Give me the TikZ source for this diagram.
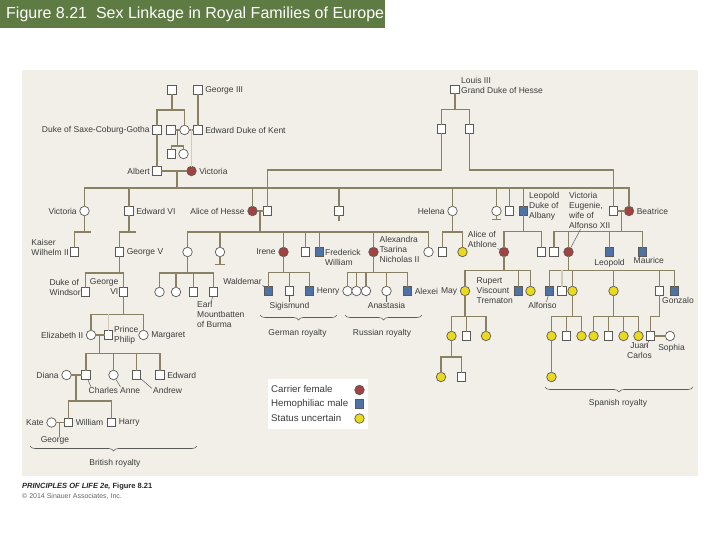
\documentclass[tikz,border=0pt]{standalone}
\usepackage{fontspec}
\setmainfont{Liberation Sans}
\usepackage{tikz}
\usetikzlibrary{positioning, calc, decorations.pathreplacing}
\definecolor{SlideGreen}{HTML}{5E7B44}
\definecolor{PanelBeige}{HTML}{F2EFE8}
\definecolor{LinkBrown}{HTML}{8A8062}
\definecolor{LinkLight}{HTML}{D2CBB6}
\definecolor{CarrierRed}{HTML}{A24341}
\definecolor{HemoBlue}{HTML}{4D72A3}
\definecolor{UncertYellow}{HTML}{E9DA1E}
\definecolor{SymEdge}{HTML}{595959}
\definecolor{LabelGray}{HTML}{3C3C3C}

\tikzset{
  male/.style={rectangle, draw=SymEdge, line width=0.7pt, fill=white, minimum size=8.5pt, inner sep=0pt},
  female/.style={circle, draw=SymEdge, line width=0.7pt, fill=white, minimum size=9.5pt, inner sep=0pt},
  carrier/.style={female, fill=CarrierRed},
  hemo/.style={male, fill=HemoBlue},
  uncertain/.style={female, fill=UncertYellow},
  kin/.style={draw=LinkBrown, line width=1.4pt, line cap=rect},
  faint/.style={draw=LinkLight, line width=1.4pt, line cap=rect},
  pointer/.style={draw=SymEdge, line width=0.5pt},
  pname/.style={font=\fontsize{8.5}{10}\selectfont, text=LabelGray, inner sep=0.5pt},
  keytext/.style={font=\fontsize{9.7}{11}\selectfont, text=LabelGray, inner sep=0pt},
  famgroup/.style={draw=SymEdge, line width=0.6pt, decorate, decoration={brace, mirror, amplitude=5pt}},
}

\begin{document}
\begin{tikzpicture}[x=1pt, y=-1pt]
\useasboundingbox (0,0) rectangle (720,540);
\fill[white] (0,0) rectangle (720,540);
\fill[SlideGreen] (0,0) rectangle (385,28);
\node (title) [anchor=west, inner sep=0pt, text=white, font=\fontsize{16}{18}\selectfont] at (6,14.5) {Figure 8.21\ \ Sex Linkage in Royal Families of Europe};
\fill[PanelBeige] (22,70) rectangle (698,476);

% Saxe-Coburg and Kent
\node (sc0) [male] at (172,90) {};
\node (george3) [male] at (198,90) {};
\node (saxe) [male] at (157,130) {};
\node (vsc1) [male] at (171,130) {};
\node (vsc) [female] at (184.5,130) {};
\node (kent) [male] at (198,130) {};
\node (vsc1a) [male] at (171.5,154) {};
\node (vsc1b) [female] at (183.5,154) {};
\node (albert) [male] at (157,171) {};
\node (queen) [carrier] at (191.5,171) {};
\node (lgeorge3) [pname, right=2pt of george3] {George III};
\node (lsaxe) [pname, left=2pt of saxe] {Duke of Saxe-Coburg-Gotha};
\node (lkent) [pname, right=2pt of kent] {Edward Duke of Kent};
\node (lalbert) [pname, left=2pt of albert] {Albert};
\node (lqueen) [pname, right=2pt of queen] {Victoria};

% Hesse
\node (hesse0) [male] at (455,89.5) {};
\node (lhesse0) [pname, anchor=west, align=left] at (460.5,85) {Louis III\\Grand Duke of Hesse};
\node (hesseA) [male] at (441.5,129) {};
\node (hesseB) [male] at (469.5,129) {};

% children of Victoria and Albert
\node (vicPR) [female] at (84.5,211) {};
\node (edward7) [male] at (129,211) {};
\node (alice) [carrier] at (252.5,211) {};
\node (louis4) [male] at (267.5,211) {};
\node (alfred) [male] at (339,211) {};
\node (helena) [female] at (452.5,211) {};
\node (louise) [female] at (496.5,211) {};
\node (arthur) [male] at (509.5,211) {};
\node (leopold) [hemo] at (523.5,211) {};
\node (henryB) [male] at (613.5,211) {};
\node (beatrice) [carrier] at (629,211) {};
\node (lvicPR) [pname, left=2pt of vicPR] {Victoria};
\node (ledward7) [pname, right=2pt of edward7] {Edward VI};
\node (lalice) [pname, left=2pt of alice] {Alice of Hesse};
\node (lhelena) [pname, left=2pt of helena] {Helena};
\node (lleopold) [pname, anchor=west, align=left] at (528.5,206) {Leopold\\Duke of\\Albany};
\node (lbeatrice) [pname, right=2pt of beatrice] {Beatrice};

% grandchildren
\node (kaiser) [male] at (74.5,252) {};
\node (georgeV) [male] at (119.5,252) {};
\node (vhesse) [female] at (187.5,252) {};
\node (ella) [female] at (220,252) {};
\node (irene) [carrier] at (283.5,252) {};
\node (ernst) [male] at (305.5,252) {};
\node (fredW) [hemo] at (319.5,252) {};
\node (alexandra) [carrier] at (373.5,252) {};
\node (maryH) [female] at (428.5,252) {};
\node (helK1) [male] at (442.5,252) {};
\node (helK2) [uncertain] at (462.5,252) {};
\node (athlone) [carrier] at (504,252) {};
\node (charlesE) [male] at (541.5,252) {};
\node (alexB) [male] at (554,252) {};
\node (vicEug) [carrier] at (568.5,252) {};
\node (leoB) [hemo] at (609.5,252) {};
\node (maurice) [hemo] at (642.5,252) {};
\node (lkaiser) [pname, anchor=east, align=left] at (69.5,247) {Kaiser\\Wilhelm II};
\node (lgeorgeV) [pname, right=2pt of georgeV] {George V};
\node (lirene) [pname, left=2pt of irene] {Irene};
\node (lfredW) [pname, anchor=west, align=left] at (324.5,257.5) {Frederick\\William};
\node (lalexandra) [pname, anchor=west, align=left] at (379,249.5) {Alexandra\\Tsarina\\Nicholas II};
\node (lathlone) [pname, anchor=south east, align=left] at (497.5,248.5) {Alice of\\Athlone};
\node (lvicEug) [pname, anchor=west, align=left] at (568.5,210.5) {Victoria\\Eugenie,\\wife of\\Alfonso XII};
\node (lleoB) [pname, below=2pt of leoB] {Leopold};
\node (lmaurice) [pname, anchor=north west] at (633,256.5) {Maurice};

% great-grandchildren
\node (windsor) [male] at (85.5,292) {};
\node (georgeVI) [male] at (123.5,292) {};
\node (vk1) [female] at (159.5,292) {};
\node (vk2) [female] at (176,292) {};
\node (vk3) [male] at (193.5,292) {};
\node (mountb) [male] at (213.5,292) {};
\node (waldemar) [hemo] at (268.5,291) {};
\node (sigis) [male] at (289.5,291) {};
\node (henryP) [hemo] at (309.5,291) {};
\node (olga) [female] at (347.5,291) {};
\node (tatiana) [female] at (356.5,291) {};
\node (maria) [female] at (366,291) {};
\node (anastasia) [female] at (386.5,291) {};
\node (alexei) [hemo] at (407.5,291) {};
\node (may) [uncertain] at (465,291) {};
\node (rupert) [hemo] at (518.5,291) {};
\node (athK3) [uncertain] at (530.5,291) {};
\node (alfonso) [hemo] at (549.5,291) {};
\node (jaime) [male] at (562,291) {};
\node (beatriz) [uncertain] at (572.5,291) {};
\node (mcrist) [uncertain] at (613.5,291) {};
\node (juan) [male] at (659.5,291) {};
\node (gonzalo) [hemo] at (674.5,291) {};
\node (lwindsor) [pname, anchor=east, align=left] at (81.5,287.5) {Duke of\\Windsor};
\node (lgeorgeVI) [pname, anchor=east, align=right] at (119,287) {George\\VI};
\node (lmount) [pname, anchor=north west, align=left] at (196.5,301) {Earl\\Mountbatten\\of Burma};
\node (lwaldemar) [pname, anchor=east] at (262.5,281.5) {Waldemar};
\node (lsigis) [pname, below=6pt of sigis] {Sigismund};
\node (lhenryP) [pname, right=2pt of henryP] {Henry};
\node (lanastasia) [pname, below=6pt of anastasia] {Anastasia};
\node (lalexei) [pname, right=2pt of alexei] {Alexei};
\node (lmay) [pname, left=2pt of may] {May};
\node (lrupert) [pname, anchor=east, align=left] at (513.5,291) {Rupert\\Viscount\\Trematon};
\node (lalfonso) [pname, anchor=north] at (542.5,302) {Alfonso};
\node (lgonzalo) [pname, anchor=north] at (678,296.5) {Gonzalo};

% next generations
\node (eliz) [female] at (91,335) {};
\node (philip) [male] at (108.5,335) {};
\node (margaret) [female] at (143.5,335) {};
\node (mayK1) [uncertain] at (451.5,336) {};
\node (mayK2) [male] at (466.5,336) {};
\node (mayK3) [uncertain] at (486,336) {};
\node (bzK1) [uncertain] at (551.5,336) {};
\node (bzK2) [male] at (566.5,336) {};
\node (bzK3) [uncertain] at (581.5,336) {};
\node (mcK1) [uncertain] at (593.5,336) {};
\node (mcK2) [male] at (608.5,336) {};
\node (mcK3) [uncertain] at (623.5,336) {};
\node (mcK4) [uncertain] at (638.5,336) {};
\node (juanC) [male] at (650.5,336) {};
\node (sophia) [female] at (670,336) {};
\node (leliz) [pname, left=2pt of eliz] {Elizabeth II};
\node (lphilip) [pname, anchor=west, align=left] at (113.5,335.5) {Prince\\Philip};
\node (lmargaret) [pname, right=2pt of margaret] {Margaret};
\node (ljuanC) [pname, anchor=north, align=center] at (639.5,341.5) {Juan\\Carlos};
\node (lsophia) [pname, anchor=north] at (671.5,343.5) {Sophia};

\node (diana) [female] at (66.5,375) {};
\node (charles) [male] at (86,375) {};
\node (anne) [female] at (113.5,375) {};
\node (andrew) [male] at (136.5,375) {};
\node (edwardW) [male] at (160,375) {};
\node (gk1) [uncertain] at (441,377) {};
\node (gk2) [male] at (461.5,377) {};
\node (spK) [uncertain] at (551.5,377) {};
\node (ldiana) [pname, left=2pt of diana] {Diana};
\node (ledwardW) [pname, right=2pt of edwardW] {Edward};
\node (lcharles) [pname, anchor=north west] at (88,387) {Charles};
\node (lanne) [pname, anchor=north west] at (119.5,387) {Anne};
\node (landrew) [pname, anchor=north west] at (152.5,387) {Andrew};

\node (kate) [female] at (51.5,422.5) {};
\node (william) [male] at (68.5,422.5) {};
\node (harry) [male] at (111.5,422.5) {};
\node (lkate) [pname, left=2pt of kate] {Kate};
\node (lwilliam) [pname, right=2pt of william] {William};
\node (lharry) [pname, right=2pt of harry] {Harry};
\node (lgeorgeW) [pname, anchor=north] at (55,436) {George};

% lines: top generations
\coordinate (sc0Bar) at (172,110);
\draw[kin] (sc0) -- (sc0Bar);
\draw[kin] (saxe |- sc0Bar) -- (vsc |- sc0Bar);
\draw[kin] (saxe |- sc0Bar) -- (saxe);
\draw[kin] (vsc |- sc0Bar) -- (vsc);
\draw[kin] (george3) -- (kent);
\draw[kin] (saxe) -- (albert);
\draw[kin] (vsc1) -- (vsc);
\draw[kin] (vsc) -- (kent);
\coordinate (vsc1Drop) at (177.5,130);
\coordinate (vsc1Bar) at (177.5,146);
\draw[kin] (vsc1Drop) -- (vsc1Bar);
\draw[kin] (vsc1a |- vsc1Bar) -- (vsc1b |- vsc1Bar);
\draw[kin] (vsc1a |- vsc1Bar) -- (vsc1a);
\draw[kin] (vsc1b |- vsc1Bar) -- (vsc1b);
\coordinate (kentDrop) at (191.5,130);
\draw[faint] (kentDrop) -- (queen);
\draw[kin] (albert) -- (queen);

\coordinate (hesseBar) at (455,109.5);
\coordinate (hesseLine) at (455,170);
\draw[kin] (hesse0) -- (hesseBar);
\draw[kin] (hesseA |- hesseBar) -- (hesseB |- hesseBar);
\draw[kin] (hesseA |- hesseBar) -- (hesseA);
\draw[kin] (hesseB |- hesseBar) -- (hesseB);
\draw[kin] (hesseA) |- (louis4 |- hesseLine) -- (louis4);
\draw[kin] (hesseB) |- (henryB |- hesseLine) -- (henryB);

% children of Victoria
\coordinate (qDrop) at (177,171);
\coordinate (qBar) at (177,188);
\draw[kin] (qDrop) -- (qBar);
\draw[kin] (vicPR |- qBar) -- (beatrice |- qBar);
\draw[kin] (vicPR |- qBar) -- (vicPR);
\draw[kin] (edward7 |- qBar) -- (edward7);
\draw[kin] (alice |- qBar) -- (alice);
\draw[kin] (alfred |- qBar) -- (alfred);
\draw[kin] (helena |- qBar) -- (helena);
\draw[kin] (louise |- qBar) -- (louise);
\draw[kin] (arthur |- qBar) -- (arthur);
\draw[kin] (leopold |- qBar) -- (leopold);
\draw[kin] (beatrice |- qBar) -- (beatrice);
\draw[kin] (alice) -- (louis4);
\draw[kin] (henryB) -- (beatrice);
\coordinate (alfredEnd) at (339,220);
\draw[kin] (alfred) -- (alfredEnd);
\coordinate (louiseEnd) at (496.5,219.5);
\draw[kin] (louise) -- (louiseEnd);
\draw[kin] ($(louiseEnd)+(-4,0)$) -- ($(louiseEnd)+(4,0)$);

% grandchildren
\coordinate (vicPRBar) at (84.5,232);
\coordinate (vicPREnd) at (90,232);
\draw[kin] (vicPR) -- (vicPRBar);
\draw[kin] (kaiser |- vicPRBar) -- (vicPREnd);
\draw[kin] (kaiser |- vicPRBar) -- (kaiser);
\coordinate (edward7Bar) at (129,232);
\coordinate (edward7End) at (135,232);
\draw[kin] (edward7) -- (edward7Bar);
\draw[kin] (georgeV |- edward7Bar) -- (edward7End);
\draw[kin] (georgeV |- edward7Bar) -- (georgeV);
\coordinate (aliceDrop) at (260,211);
\coordinate (aliceBar) at (260,232);
\draw[kin] (aliceDrop) -- (aliceBar);
\draw[kin] (vhesse |- aliceBar) -- (maryH |- aliceBar);
\draw[kin] (vhesse |- aliceBar) -- (vhesse);
\draw[kin] (ella |- aliceBar) -- (ella);
\draw[kin] (irene |- aliceBar) -- (irene);
\draw[kin] (ernst |- aliceBar) -- (ernst);
\draw[kin] (fredW |- aliceBar) -- (fredW);
\draw[kin] (alexandra |- aliceBar) -- (alexandra);
\draw[kin] (maryH |- aliceBar) -- (maryH);
\coordinate (ellaEnd) at (220,264.5);
\draw[kin] (ella) -- (ellaEnd);
\draw[kin] ($(ellaEnd)+(-4,0)$) -- ($(ellaEnd)+(4,0)$);
\coordinate (helenaBar) at (452.5,232);
\draw[kin] (helena) -- (helenaBar);
\draw[kin] (helK1 |- helenaBar) -- (helK2 |- helenaBar);
\draw[kin] (helK1 |- helenaBar) -- (helK1);
\draw[kin] (helK2 |- helenaBar) -- (helK2);
\coordinate (leopoldBar) at (523.5,231.5);
\draw[kin] (leopold) -- (leopoldBar);
\draw[kin] (athlone |- leopoldBar) -- (charlesE |- leopoldBar);
\draw[kin] (athlone |- leopoldBar) -- (athlone);
\draw[kin] (charlesE |- leopoldBar) -- (charlesE);
\coordinate (beatriceDrop) at (621.5,211);
\coordinate (beatriceBar) at (621.5,231.5);
\draw[kin] (beatriceDrop) -- (beatriceBar);
\draw[kin] (alexB |- beatriceBar) -- (maurice |- beatriceBar);
\draw[kin] (alexB |- beatriceBar) -- (alexB);
\draw[kin] (vicEug |- beatriceBar) -- (vicEug);
\draw[kin] (leoB |- beatriceBar) -- (leoB);
\draw[kin] (maurice |- beatriceBar) -- (maurice);
\draw[pointer] (lathlone.south east) -- (athlone);
\draw[pointer] ($(lvicEug.south west)+(12,0)$) -- (vicEug);

% great-grandchildren
\coordinate (georgeVBar) at (119.5,273);
\draw[kin] (georgeV) -- (georgeVBar);
\draw[kin] (windsor |- georgeVBar) -- (georgeVI |- georgeVBar);
\draw[kin] (windsor |- georgeVBar) -- (windsor);
\draw[kin] (georgeVI |- georgeVBar) -- (georgeVI);
\coordinate (vhesseBar) at (187.5,273);
\draw[kin] (vhesse) -- (vhesseBar);
\draw[kin] (vk1 |- vhesseBar) -- (mountb |- vhesseBar);
\draw[kin] (vk1 |- vhesseBar) -- (vk1);
\draw[kin] (vk2 |- vhesseBar) -- (vk2);
\draw[kin] (vk3 |- vhesseBar) -- (vk3);
\draw[kin] (mountb |- vhesseBar) -- (mountb);
\draw[pointer] ($(lmount.north west)+(14.5,3)$) -- (mountb);
\coordinate (ireneBar) at (283.5,272.5);
\draw[kin] (irene) -- (ireneBar);
\draw[kin] (waldemar |- ireneBar) -- (henryP |- ireneBar);
\draw[kin] (waldemar |- ireneBar) -- (waldemar);
\draw[kin] (sigis |- ireneBar) -- (sigis);
\draw[kin] (henryP |- ireneBar) -- (henryP);
\draw[pointer] (lwaldemar.south east) -- (waldemar);
\draw[pointer] (sigis) -- (lsigis);
\coordinate (alexandraBar) at (373.5,272.5);
\draw[kin] (alexandra) -- (alexandraBar);
\draw[kin] (olga |- alexandraBar) -- (alexei |- alexandraBar);
\draw[kin] (olga |- alexandraBar) -- (olga);
\draw[kin] (tatiana |- alexandraBar) -- (tatiana);
\draw[kin] (maria |- alexandraBar) -- (maria);
\draw[kin] (anastasia |- alexandraBar) -- (anastasia);
\draw[kin] (alexei |- alexandraBar) -- (alexei);
\draw[pointer] (anastasia) -- (lanastasia);
\coordinate (athloneBar) at (504,270.5);
\draw[kin] (athlone) -- (athloneBar);
\draw[kin] (may |- athloneBar) -- (athK3 |- athloneBar);
\draw[kin] (may |- athloneBar) -- (may);
\draw[kin] (rupert |- athloneBar) -- (rupert);
\draw[kin] (athK3 |- athloneBar) -- (athK3);
\coordinate (vicEugBar) at (568.5,270.5);
\draw[kin] (vicEug) -- (vicEugBar);
\draw[kin] (alfonso |- vicEugBar) -- (gonzalo |- vicEugBar);
\draw[kin] (alfonso |- vicEugBar) -- (alfonso);
\draw[faint] (jaime |- vicEugBar) -- (jaime);
\draw[kin] (beatriz |- vicEugBar) -- (beatriz);
\draw[kin] (mcrist |- vicEugBar) -- (mcrist);
\draw[kin] (juan |- vicEugBar) -- (juan);
\draw[kin] (gonzalo |- vicEugBar) -- (gonzalo);
\draw[pointer] (alfonso) -- ($(lalfonso.north)+(4,0)$);

% next generations
\coordinate (georgeVIBar) at (123.5,314.5);
\draw[kin] (georgeVI) -- (georgeVIBar);
\draw[kin] (eliz |- georgeVIBar) -- (margaret |- georgeVIBar);
\draw[kin] (eliz |- georgeVIBar) -- (eliz);
\draw[kin] (margaret |- georgeVIBar) -- (margaret);
\draw[faint] (philip |- georgeVIBar) -- (philip);
\draw[kin] (eliz) -- (philip);
\coordinate (mayBar) at (465,316.5);
\draw[kin] (may) -- (mayBar);
\draw[kin] (mayK1 |- mayBar) -- (mayK3 |- mayBar);
\draw[kin] (mayK1 |- mayBar) -- (mayK1);
\draw[kin] (mayK2 |- mayBar) -- (mayK2);
\draw[kin] (mayK3 |- mayBar) -- (mayK3);
\coordinate (beatrizBar) at (572.5,316.5);
\draw[kin] (beatriz) -- (beatrizBar);
\draw[kin] (bzK1 |- beatrizBar) -- (bzK3 |- beatrizBar);
\draw[kin] (bzK1 |- beatrizBar) -- (bzK1);
\draw[kin] (bzK2 |- beatrizBar) -- (bzK2);
\draw[kin] (bzK3 |- beatrizBar) -- (bzK3);
\coordinate (mcristBar) at (613.5,316.5);
\draw[kin] (mcrist) -- (mcristBar);
\draw[kin] (mcK1 |- mcristBar) -- (mcK4 |- mcristBar);
\draw[kin] (mcK1 |- mcristBar) -- (mcK1);
\draw[kin] (mcK2 |- mcristBar) -- (mcK2);
\draw[kin] (mcK3 |- mcristBar) -- (mcK3);
\draw[kin] (mcK4 |- mcristBar) -- (mcK4);
\coordinate (juanBar) at (659.5,316.5);
\draw[kin] (juan) -- (juanBar) -- (juanC |- juanBar) -- (juanC);
\draw[kin] (juanC) -- (sophia);
\draw[pointer] (juanC) -- ($(ljuanC.north east)+(-6,5)$);

\coordinate (elizDrop) at (99.5,335);
\coordinate (elizBar) at (99.5,353.5);
\draw[kin] (elizDrop) -- (elizBar);
\draw[kin] (charles |- elizBar) -- (edwardW |- elizBar);
\draw[kin] (charles |- elizBar) -- (charles);
\draw[kin] (anne |- elizBar) -- (anne);
\draw[kin] (andrew |- elizBar) -- (andrew);
\draw[kin] (edwardW |- elizBar) -- (edwardW);
\draw[kin] (diana) -- (charles);
\draw[pointer] ($(lcharles.north west)+(3,0)$) -- (charles);
\draw[pointer] ($(lanne.north west)+(1,0)$) -- (anne);
\draw[pointer] ($(landrew.north west)+(-0.5,1.5)$) -- (andrew);
\coordinate (mayK1Bar) at (451.5,357);
\draw[kin] (mayK1) -- (mayK1Bar);
\draw[kin] (gk1 |- mayK1Bar) -- (gk2 |- mayK1Bar);
\draw[kin] (gk1 |- mayK1Bar) -- (gk1);
\draw[kin] (gk2 |- mayK1Bar) -- (gk2);
\draw[kin] (bzK1) -- (spK);

\coordinate (dianaDrop) at (76,375);
\coordinate (dianaBar) at (76,401);
\draw[kin] (dianaDrop) -- (dianaBar);
\draw[kin] (william |- dianaBar) -- (harry |- dianaBar);
\draw[kin] (william |- dianaBar) -- (william);
\draw[kin] (harry |- dianaBar) -- (harry);
\draw[kin] (kate) -- (william);
\coordinate (kateDrop) at (59.5,422.5);
\coordinate (kateEnd) at (59.5,436);
\draw[kin] (kateDrop) -- (kateEnd);

% royal houses
\draw[famgroup] (30,446) -- (197,446);
\node (lbritish) [pname] at (115,463) {British royalty};
\draw[famgroup] (260,315) -- (337,315);
\node (lgerman) [pname] at (297.5,333) {German royalty};
\draw[famgroup] (345,315) -- (422,315);
\node (lrussian) [pname] at (382,333) {Russian royalty};
\draw[famgroup] (545,387) -- (693,387);
\node (lspanish) [pname] at (618,403.5) {Spanish royalty};

% key
\node (keybox) [fill=white, anchor=north west, minimum width=100pt, minimum height=50pt, inner sep=0pt] at (267.5,378.5) {};
\node (tcarrier) [keytext, anchor=west] at (271,389.5) {Carrier female};
\node (themo) [keytext, anchor=west] at (271,403.5) {Hemophiliac male};
\node (tuncert) [keytext, anchor=west] at (271,418.5) {Status uncertain};
\node (kcarrier) [carrier] at (359.5,390) {};
\node (khemo) [hemo] at (359.5,404) {};
\node (kuncert) [uncertain] at (359.5,418.5) {};

% credit
\node (credit) [anchor=west, inner sep=0pt, font=\fontsize{7.5}{8}\selectfont\bfseries, text=black!85] at (22,486.5) {\textit{PRINCIPLES OF LIFE 2e,} Figure 8.21};
\node (copyr) [anchor=west, inner sep=0pt, font=\fontsize{7}{8}\selectfont, text=black!60] at (22,496) {\textcopyright\ 2014 Sinauer Associates, Inc.};
\end{tikzpicture}
\end{document}
